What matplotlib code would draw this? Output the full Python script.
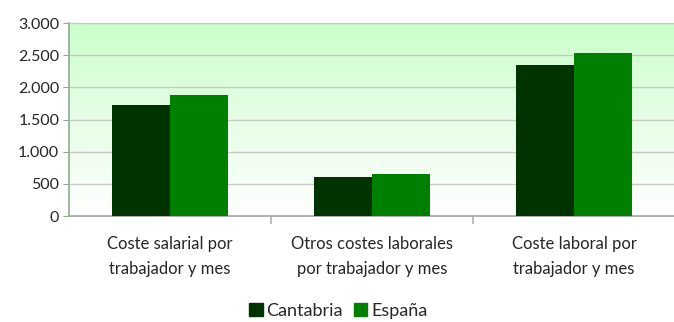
import matplotlib.pyplot as plt
import numpy as np
from matplotlib.colors import LinearSegmentedColormap
from matplotlib.patches import Patch
from matplotlib.ticker import FuncFormatter

categorias = ['Coste salarial por\ntrabajador y mes',
              'Otros costes laborales\npor trabajador y mes',
              'Coste laboral por\ntrabajador y mes']
cantabria = [1725, 606, 2347]
espana = [1881, 653, 2534]

plt.rcParams['font.family'] = ['Lato', 'DejaVu Sans']
txt = '#262626'

fig = plt.figure(figsize=(6.74, 3.22), dpi=100)
ax = fig.add_axes([0.1024, 0.329, 0.899, 0.599])

ind = np.arange(len(categorias))
width = 0.286
ax.bar(ind - width / 2, cantabria, width, color='#003300', zorder=3)
ax.bar(ind + width / 2, espana, width, color='#008000', zorder=3)

ax.set_xlim(-0.5, 2.5)
ax.set_ylim(0, 3000)

# fondo degradado verde -> blanco
grad = LinearSegmentedColormap.from_list('g', ['#ffffff', '#e6fde6', '#ccffcc'])
ax.imshow(np.linspace(0, 1, 256).reshape(-1, 1), cmap=grad, origin='lower',
          extent=[-0.5, 2.5, 0, 3000], aspect='auto', zorder=0)

ax.set_yticks(np.arange(0, 3001, 500))
ax.yaxis.set_major_formatter(FuncFormatter(lambda v, p: f'{int(v):,}'.replace(',', '.')))
ax.yaxis.grid(True, color='#c8c8c8', linewidth=1, zorder=1)
ax.set_axisbelow(False)

ax.set_xticks(ind)
ax.set_xticklabels(categorias, fontsize=12, color=txt, linespacing=1.75)
ax.set_xticks([0.5, 1.5], minor=True)
ax.tick_params(axis='x', which='major', length=0, pad=14)
ax.tick_params(axis='x', which='minor', length=6, color='#b0b0b0', width=1.2)
ax.tick_params(axis='y', length=4, color='#8faa8f', labelsize=11.5, labelcolor=txt, pad=3)

for s in ['top', 'right']:
    ax.spines[s].set_visible(False)
ax.spines['left'].set_color('#8faa8f')
ax.spines['bottom'].set_color('#a0a0a0')
ax.spines['left'].set_linewidth(1.2)
ax.spines['bottom'].set_linewidth(1.2)

handles = [Patch(color='#003300', label='Cantabria'),
           Patch(color='#008000', label='España')]
fig.legend(handles=handles, loc='lower center', bbox_to_anchor=(0.502, -0.04), ncol=2,
           frameon=False, fontsize=13, handlelength=0.75, handleheight=0.75,
           handletextpad=0.2, columnspacing=0.6, labelcolor=txt)

fig.savefig('out.png', dpi=100)
